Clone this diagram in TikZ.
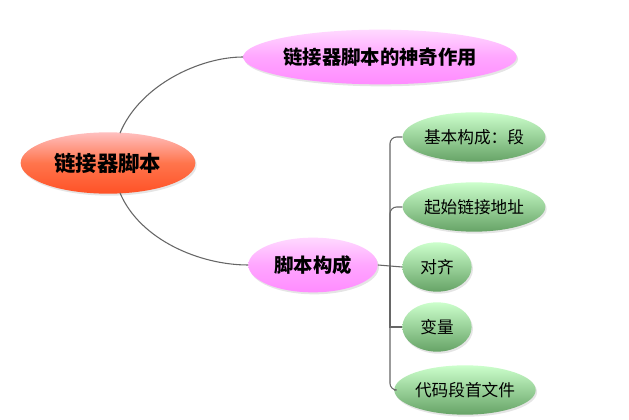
\documentclass[tikz,border=0pt]{standalone}
\usepackage{fontspec}
\newfontfamily\cjk{Noto Sans CJK SC}
\usetikzlibrary{shapes.geometric,shadows}

\begin{document}
\begin{tikzpicture}[x=0.75pt,y=-0.75pt,
  blob/.style={ellipse, inner sep=0pt, draw=none, drop shadow={opacity=0.2,shadow xshift=1pt,shadow yshift=-1.5pt}},
  rootbox/.style={blob, top color=red!25!white, bottom color=red!60!orange!85!white, middle color=red!55!orange!70!white, minimum width=131pt, minimum height=46pt, font=\cjk\bfseries\fontsize{16}{16}\selectfont},
  topicbox/.style={blob, top color=magenta!15!white, bottom color=magenta!45!white, middle color=magenta!35!white, minimum height=41pt, font=\cjk\bfseries\fontsize{14.5}{15}\selectfont},
  leafbox/.style={blob, top color=green!20!white, bottom color=green!40!black!60!white, middle color=green!55!black!40!white, minimum height=37pt, font=\cjk\fontsize{12.5}{13}\selectfont},
  link/.style={draw=gray!80!black, thick},
  every node/.style={align=center}]

\useasboundingbox[fill=white] (0,0) rectangle (629,420);

% main topic and its two branches
\node[rootbox] (linkerScript) at (108,163) {链接器脚本};
\node[topicbox, minimum width=198pt] (scriptMagic) at (380,57) {链接器脚本的神奇作用};
\node[topicbox, minimum width=97pt] (scriptParts) at (313,265) {脚本构成};

% leaves of the second branch
\node[leafbox, minimum width=107pt] (basicPart) at (474,137) {基本构成：段};
\node[leafbox, minimum width=107pt] (startAddr) at (474,207) {起始链接地址};
\node[leafbox, minimum width=52pt] (alignment) at (437,267) {对齐};
\node[leafbox, minimum width=52pt] (variables) at (437,327) {变量};
\node[leafbox, minimum width=94pt] (headerFile) at (465,390) {代码段首文件};

% curved links from the main topic
\draw[link] (linkerScript.north) ++(12,1) .. controls (140,85) and (200,57) .. (scriptMagic.west);
\draw[link] (linkerScript.south) ++(12,-1) .. controls (140,240) and (200,265) .. (scriptParts.west);

% bracket joining the leaves
\coordinate (fork) at (390,265);
\draw[link] (scriptParts.east) -- (alignment.west);
\draw[link, rounded corners=5pt] (basicPart.west) -| (fork) |- (headerFile.west);
\draw[link, rounded corners=5pt] (startAddr.west) -| (fork);
\draw[link] (fork) |- (variables.west);

\end{tikzpicture}
\end{document}
